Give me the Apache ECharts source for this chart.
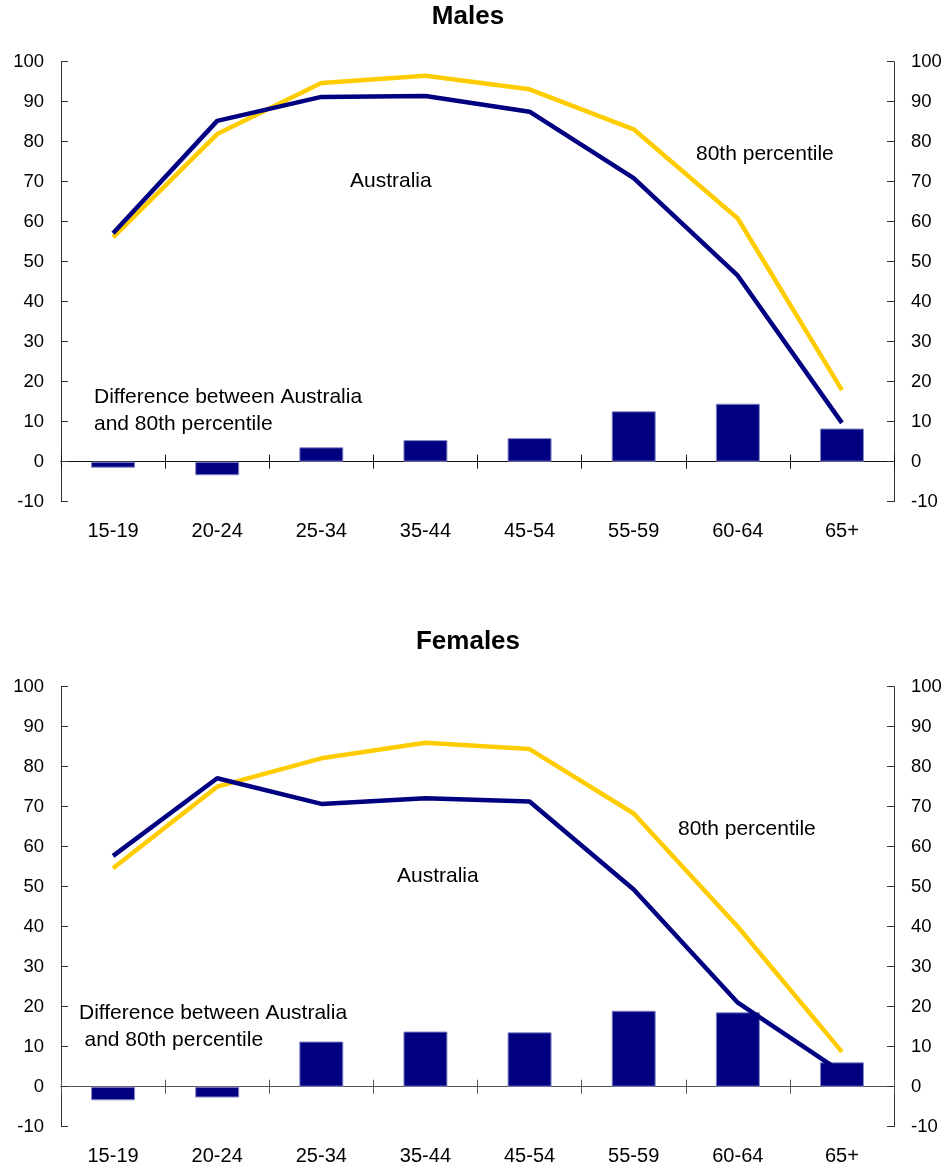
<!DOCTYPE html>
<html>
<head>
<meta charset="utf-8">
<script src="https://cdn.jsdelivr.net/npm/echarts@6/dist/echarts.min.js"></script>
<style>
  html, body { margin: 0; padding: 0; background: #ffffff; }
  #chart { width: 948px; height: 1169px; }
</style>
</head>
<body>
<div id="chart"></div>
<script>
// Participation rates by age group, Australia vs 80th percentile (per cent)
const ageGroups = ['15-19', '20-24', '25-34', '35-44', '45-54', '55-59', '60-64', '65+'];
const yTicks = { min: -10, max: 100, step: 10 };

const malesAustralia = [57.1, 85.2, 91.2, 91.4, 87.5, 70.9, 46.5, 9.7];
const malesP80       = [56.1, 81.9, 94.7, 96.5, 93.1, 83.1, 60.8, 17.9];
const malesGap       = [-1.5, -3.4, 3.6, 5.4, 5.9, 12.6, 14.5, 8.3];

const femalesAustralia = [57.7, 77.1, 70.7, 72.1, 71.3, 49.3, 21.0, 3.6];
const femalesP80       = [54.6, 75.0, 82.1, 86.0, 84.4, 68.3, 40.0, 8.7];
const femalesGap       = [-3.4, -2.7, 11.3, 13.8, 13.6, 19.0, 18.6, 6.1];

const FONT = "'Liberation Sans', Arial, sans-serif";
const NAVY = '#000080';
const GOLD = '#FFCC00';

const panels = [
  { title: 'Males', top: 61.7, zeroColor: '#111', aus: malesAustralia, p80: malesP80, gap: malesGap },
  { title: 'Females', top: 686.7, zeroColor: '#555', aus: femalesAustralia, p80: femalesP80, gap: femalesGap }
];

const grids = [], xAxes = [], yAxes = [], series = [];

panels.forEach((p, i) => {
  grids.push({ left: 61, right: 54, top: p.top, height: 440 });

  // category labels along the bottom of the panel
  xAxes.push({
    gridIndex: i, type: 'category', data: ageGroups, position: 'bottom',
    axisLine: { show: false, onZero: false }, axisTick: { show: false },
    axisLabel: { fontSize: 20, color: '#000', margin: 20, fontFamily: FONT }
  });
  // zero line with ticks pointing down
  xAxes.push({
    gridIndex: i, type: 'category', data: ageGroups, position: 'bottom',
    axisLine: { show: true, onZero: true, lineStyle: { color: p.zeroColor, width: 1 } },
    axisTick: { show: true, inside: false, length: 7, lineStyle: { color: p.zeroColor } },
    axisLabel: { show: false }
  });
  // same ticks pointing up
  xAxes.push({
    gridIndex: i, type: 'category', data: ageGroups, position: 'bottom',
    axisLine: { show: true, onZero: true, lineStyle: { color: p.zeroColor, width: 1 } },
    axisTick: { show: true, inside: true, length: 7, lineStyle: { color: p.zeroColor } },
    axisLabel: { show: false }
  });

  ['left', 'right'].forEach(pos => {
    yAxes.push({
      gridIndex: i, type: 'value', position: pos,
      min: yTicks.min, max: yTicks.max, interval: yTicks.step,
      axisLine: { show: true, lineStyle: { color: '#333', width: 1 } },
      axisTick: { show: true, inside: true, length: 7, lineStyle: { color: '#333' } },
      axisLabel: { fontSize: 18.5, color: '#000', margin: 17, fontFamily: FONT },
      splitLine: { show: false }
    });
  });

  const xi = i * 3, yi = i * 2;
  series.push({
    type: 'bar', xAxisIndex: xi, yAxisIndex: yi, data: p.gap, barWidth: 44,
    itemStyle: { color: NAVY, borderColor: '#8a8ac6', borderWidth: 1 }, z: 2
  });
  series.push({
    type: 'line', xAxisIndex: xi, yAxisIndex: yi, data: p.p80, symbol: 'none',
    lineStyle: { color: GOLD, width: 4.5 }, z: 3
  });
  series.push({
    type: 'line', xAxisIndex: xi, yAxisIndex: yi, data: p.aus, symbol: 'none',
    lineStyle: { color: NAVY, width: 4.5 }, z: 4
  });
});

function label(text, x, y, opts) {
  return Object.assign({
    type: 'text', x: x, y: y, z: 10,
    style: Object.assign({
      text: text, fontSize: 21, fontFamily: FONT, fill: '#000',
      textAlign: 'left', textVerticalAlign: 'middle'
    }, opts || {})
  });
}

const graphics = [
  label('Males', 468, 17, { fontSize: 26, fontWeight: 'bold', textAlign: 'center' }),
  label('Australia', 350, 181),
  label('80th percentile', 696, 154),
  label('Difference between Australia', 94, 397.5),
  label('and 80th percentile', 94, 424.5),

  label('Females', 468, 642, { fontSize: 26, fontWeight: 'bold', textAlign: 'center' }),
  label('Australia', 397, 876),
  label('80th percentile', 678, 829.5),
  label('Difference between Australia', 79, 1013),
  label('and 80th percentile', 84.5, 1040)
];

const chart = echarts.init(document.getElementById('chart'), null, { renderer: 'canvas' });
chart.setOption({
  animation: false,
  backgroundColor: '#ffffff',
  textStyle: { fontFamily: FONT },
  grid: grids,
  xAxis: xAxes,
  yAxis: yAxes,
  series: series,
  graphic: graphics
});
</script>
</body>
</html>
